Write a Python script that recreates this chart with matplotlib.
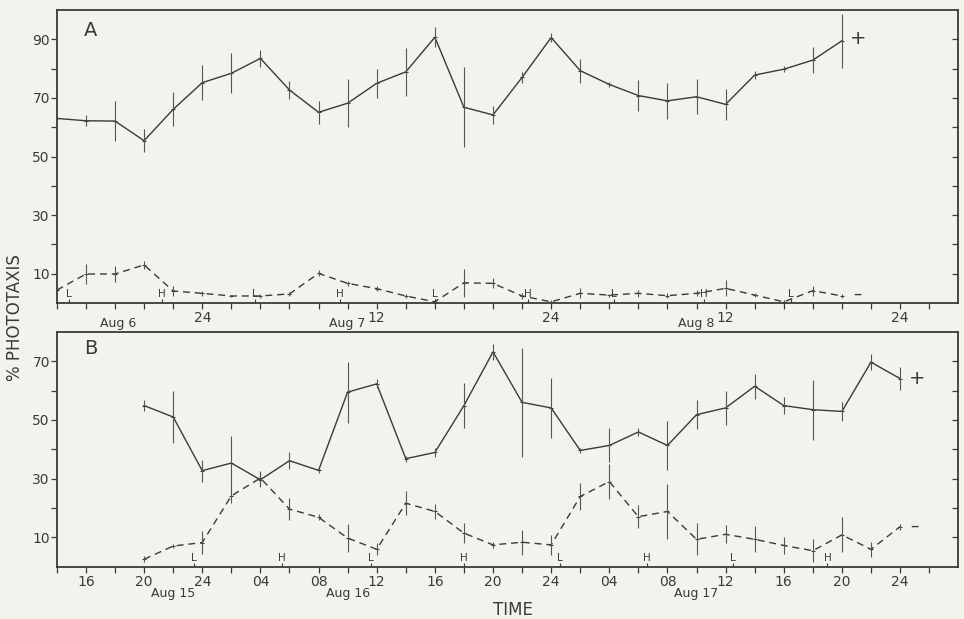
import matplotlib
matplotlib.use('Agg')
import matplotlib.pyplot as plt
import numpy as np

plt.rcParams['font.family'] = 'DejaVu Sans'

# time in hours from start of first date shown (14 = 14:00)
t_a = np.arange(14, 69, 2)
a_pos = [63.0, 62.2, 62.1, 55.4, 66.1, 75.2, 78.4, 83.5, 72.7, 65.1, 68.2, 75.0, 78.9, 90.7,
         66.8, 64.2, 77.0, 90.6, 79.3, 74.6, 70.8, 69.0, 70.4, 67.8, 77.8, 79.8, 82.9, 89.5]
a_pos_err = [0, 1.8, 6.8, 4.0, 5.8, 6.0, 6.8, 2.9, 3.1, 3.9, 8.2, 5.0, 8.3, 3.4,
             13.7, 3.2, 1.9, 1.4, 4.1, 1.0, 5.2, 6.2, 6.0, 5.3, 1.5, 1.0, 4.4, 9.2]
a_neg = [4.4, 9.9, 9.9, 13.0, 4.1, 3.3, 2.4, 2.4, 3.1, 10.1, 6.7, 4.9, 2.4, 0.4,
         6.9, 6.7, 2.4, 0.4, 3.3, 2.7, 3.3, 2.5, 3.3, 5.0, 2.7, 0.4, 4.2, 2.4]
a_neg_err = [0, 3.4, 2.6, 1.5, 1.7, 0.8, 0.5, 0.8, 0.8, 1.0, 0.8, 0.8, 0.8, 0.8,
             4.7, 1.7, 1.0, 0.5, 1.7, 0.5, 1.3, 0.8, 1.0, 2.7, 0.8, 0.5, 1.7, 0.8]

t_b = np.arange(20, 73, 2)
b_pos = [54.9, 51.0, 32.7, 35.3, 29.6, 36.1, 32.8, 59.5, 62.3, 36.8, 38.9, 54.9, 73.2, 56.0,
         54.1, 39.6, 41.3, 45.9, 41.3, 51.8, 54.1, 61.5, 54.9, 53.5, 52.9, 69.7, 64.1]
b_pos_err = [1.9, 8.8, 3.7, 9.3, 2.5, 2.9, 1.0, 10.4, 1.5, 1.0, 1.5, 7.7, 2.7, 18.5,
             10.2, 1.0, 5.8, 1.5, 8.5, 4.9, 5.8, 4.3, 3.0, 10.2, 3.3, 2.7, 4.0]
b_neg = [2.5, 7.0, 8.2, 24.1, 30.2, 19.6, 16.8, 9.7, 5.9, 21.6, 18.8, 11.4, 7.4, 8.3,
         7.4, 23.9, 29.0, 17.0, 18.8, 9.3, 11.0, 9.3, 7.2, 5.4, 10.8, 5.9, 13.6]
b_neg_err = [1.0, 0.8, 4.0, 2.5, 2.5, 3.7, 1.0, 4.7, 2.0, 4.1, 2.7, 3.4, 1.0, 4.3,
             3.4, 4.7, 6.0, 4.0, 9.4, 5.4, 3.1, 4.5, 3.0, 3.9, 6.0, 2.5, 1.0]

# tides (L = low, H = high)
tide_a_t = [14.8, 21.2, 27.6, 33.5, 40.0, 46.4, 52.3, 58.5, 64.5]
tide_a = ['L', 'H', 'L', 'H', 'L', 'H', 'L', 'H', 'L']
tide_b_t = [23.4, 29.5, 35.6, 42.0, 48.6, 54.6, 60.5, 67.0]
tide_b = ['L', 'H', 'L', 'H', 'L', 'H', 'L', 'H']

ticks_a = {24: '24', 36: '12', 48: '24', 60: '12', 72: '24'}
dates_a = {18.2: 'Aug 6', 34.0: 'Aug 7', 58.0: 'Aug 8'}
ticks_b = {16: '16', 20: '20', 24: '24', 28: '04', 32: '08', 36: '12', 40: '16', 44: '20',
           48: '24', 52: '04', 56: '08', 60: '12', 64: '16', 68: '20', 72: '24'}
dates_b = {22.0: 'Aug 15', 34.0: 'Aug 16', 58.0: 'Aug 17'}

bg = '#f4f2ec'
ink = '#3a3a3a'

fig = plt.figure(figsize=(9.64, 6.19), dpi=100, facecolor=bg)
axA = fig.add_axes([0.059, 0.5105, 0.935, 0.4733])
axB = fig.add_axes([0.059, 0.0847, 0.935, 0.379])


def panel(ax, t, pos, pos_err, neg, neg_err, ymax, tide_t, tide, ticks, dates, letter,
          plus_xy, minus_xy, date_off):
    ax.set_facecolor(bg)
    ax.plot(t, pos, color=ink, lw=1.0, marker='_', ms=3, mew=0.8)
    ax.vlines(t, np.array(pos) - pos_err, np.array(pos) + pos_err, color='#555555', lw=0.8)
    ax.plot(t, neg, color=ink, lw=1.0, ls=(0, (5, 3.5)), marker='_', ms=3, mew=0.8)
    ax.vlines(t, np.array(neg) - neg_err, np.array(neg) + neg_err, color='#555555', lw=0.8)

    for x, s in zip(tide_t, tide):
        ax.vlines(x, 0, 1.2, color=ink, lw=0.8)
        ax.text(x, 1.3, s, ha='center', va='bottom', fontsize=7.5, color=ink)

    ax.text(plus_xy[0], plus_xy[1], '+', ha='center', va='center', fontsize=14, color=ink)
    ax.text(minus_xy[0], minus_xy[1], '\u2013', ha='center', va='center', fontsize=12, color=ink)

    ax.set_xlim(14, 76)
    ax.set_ylim(0, ymax)
    xt = np.arange(14, 76, 2)
    ax.set_xticks(xt)
    ax.set_xticklabels([ticks.get(int(x), '') for x in xt])
    ax.tick_params(axis='x', direction='out', length=4, width=0.9, pad=2,
                   labelsize=10, colors=ink)
    yt = np.arange(10, ymax, 10)
    ax.set_yticks(yt)
    ax.set_yticklabels([str(v) if v % 20 == 10 else '' for v in yt])
    ax.tick_params(axis='y', direction='out', length=4, width=0.9, pad=1,
                   labelsize=10, colors=ink)
    for sp in ax.spines.values():
        sp.set_color(ink)
        sp.set_linewidth(1.3)

    # inward ticks on the right edge
    axr = ax.twinx()
    axr.set_ylim(0, ymax)
    axr.set_yticks(yt)
    axr.tick_params(axis='y', direction='in', length=4, width=0.9, colors=ink,
                    labelright=False)
    for sp in axr.spines.values():
        sp.set_visible(False)

    for x, s in dates.items():
        ax.annotate(s, xy=(x, 0), xycoords=('data', 'axes fraction'), xytext=(0, date_off),
                    textcoords='offset points', ha='center', va='top', fontsize=9, color=ink)
    ax.text(0.03, 0.93, letter, transform=ax.transAxes, ha='left', va='center',
            fontsize=14, color=ink)


panel(axA, t_a, a_pos, a_pos_err, a_neg, a_neg_err, 100, tide_a_t, tide_a, ticks_a, dates_a,
      'A', (69.1, 90.4), (69.1, 3.2), -10)
panel(axB, t_b, b_pos, b_pos_err, b_neg, b_neg_err, 80, tide_b_t, tide_b, ticks_b, dates_b,
      'B', (73.2, 64.0), (73.0, 13.8), -14.5)

fig.text(0.016, 1 - 318 / 619, '% PHOTOTAXIS', rotation=90, ha='center', va='center',
         fontsize=12, color=ink)
fig.text(513 / 964, 1 - 610 / 619, 'TIME', ha='center', va='center', fontsize=12, color=ink)

fig.savefig('out.png', dpi=100, facecolor=bg)
